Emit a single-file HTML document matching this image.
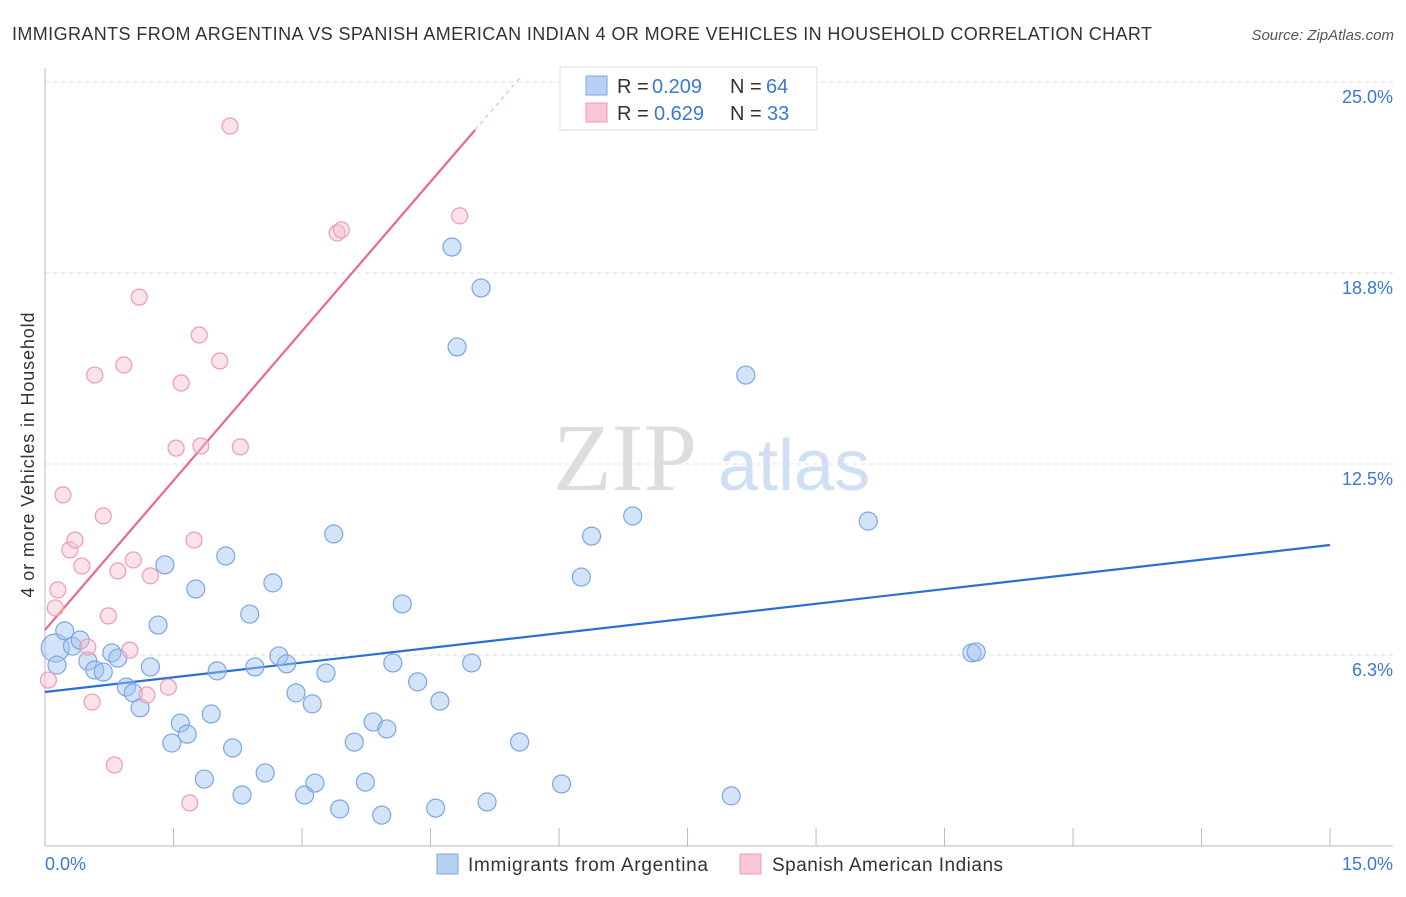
<!DOCTYPE html>
<html><head><meta charset="utf-8"><style>
body{margin:0;background:#fff;font-family:"Liberation Sans",sans-serif}
svg text{font-family:"Liberation Sans",sans-serif}
</style></head><body>
<svg width="1406" height="892" xmlns="http://www.w3.org/2000/svg">
<text x="12" y="40" font-size="18" fill="#333" textLength="1140">IMMIGRANTS FROM ARGENTINA VS SPANISH AMERICAN INDIAN 4 OR MORE VEHICLES IN HOUSEHOLD CORRELATION CHART</text>
<text x="1394" y="40" font-size="15" fill="#555" text-anchor="end" font-style="italic">Source: ZipAtlas.com</text>
<g>
<text x="553" y="490" font-size="96" fill="#ddd" style="font-family:'Liberation Serif',serif">ZIP</text>
<text x="718" y="490" font-size="72" fill="#cfe0f5">atlas</text>
</g>
<g id="grid"></g>
<g id="axes"></g>
<g id="trends"></g>
<g id="points"></g>
<g>
<rect x="560" y="67" width="257" height="63" fill="#fff" stroke="#ddd"/>
<rect x="586" y="76" width="21" height="19" fill="#b8d1f3" stroke="#7aa6e6"/>
<rect x="586" y="103" width="21" height="19" fill="#f9c6d5" stroke="#ef9ab5"/>
<text x="617" y="93" font-size="20" fill="#333">R =</text>
<text x="652" y="93" font-size="20" fill="#3b78d0">0.209</text>
<text x="730" y="93" font-size="20" fill="#333">N =</text>
<text x="766" y="93" font-size="20" fill="#3b78d0">64</text>
<text x="617" y="120" font-size="20" fill="#333">R =</text>
<text x="654" y="120" font-size="20" fill="#3b78d0">0.629</text>
<text x="730" y="120" font-size="20" fill="#333">N =</text>
<text x="767" y="120" font-size="20" fill="#3b78d0">33</text>
</g>
<g>
<rect x="437" y="854" width="21" height="20" fill="#b8d1f3" stroke="#7aa6e6"/>
<text x="468" y="871" font-size="19" fill="#333" textLength="240">Immigrants from Argentina</text>
<rect x="740" y="854" width="21" height="20" fill="#f9c6d5" stroke="#ef9ab5"/>
<text x="772" y="871" font-size="19" fill="#333" textLength="231">Spanish American Indians</text>
</g>
<text x="34" y="455" font-size="18" fill="#333" text-anchor="middle" textLength="285" transform="rotate(-90 34 455)">4 or more Vehicles in Household</text>
<text x="45" y="870" font-size="18" fill="#3b78d0">0.0%</text>
<text x="1393" y="870" font-size="18" fill="#3b78d0" text-anchor="end">15.0%</text>
</svg>
<script>
const yTicks=[6.25,12.5,18.75,25];
const yTickLabels=["6.3%","12.5%","18.8%","25.0%"];
const blueX=[.12,.14,.23,.32,.41,.50,.58,.68,.78,.85,.95,1.03,1.11,1.23,1.32,1.40,1.48,1.58,1.66,1.76,1.86,1.94,2.01,2.11,2.19,2.30,2.39,2.45,2.57,2.66,2.73,2.82,2.93,3.03,3.12,3.15,3.28,3.37,3.44,3.61,3.74,3.83,3.93,3.99,4.06,4.17,4.35,4.56,4.61,4.75,4.81,4.98,5.09,5.16,5.54,6.03,6.26,6.38,6.86,8.01,8.18,9.61,10.82,10.87];
const blueY=[6.48,5.92,7.04,6.54,6.74,6.05,5.76,5.69,6.32,6.15,5.20,5.01,4.52,5.86,7.23,9.20,3.37,4.02,3.66,8.41,2.19,4.32,5.73,9.49,3.21,1.67,7.59,5.86,2.39,8.61,6.22,5.96,5.01,1.67,4.65,2.06,5.66,10.21,1.21,3.40,2.09,4.06,1.01,3.83,5.99,7.92,5.37,1.24,4.74,19.60,16.33,5.99,18.26,1.44,3.40,2.03,8.80,10.14,10.80,1.64,15.41,10.63,6.32,6.35];
const pinkX=[.04,.12,.15,.21,.29,.35,.43,.50,.55,.58,.68,.74,.81,.85,.92,.99,1.03,1.10,1.19,1.23,1.44,1.53,1.59,1.69,1.74,1.80,1.82,2.04,2.16,2.28,3.41,3.46,4.84];
const pinkY=[5.43,7.79,8.38,11.49,9.69,10.01,9.16,6.51,4.71,15.41,10.80,7.53,2.65,9.00,15.74,6.41,9.36,17.96,4.94,8.84,5.20,13.02,15.15,1.41,10.01,16.72,13.09,15.87,23.56,13.06,20.06,20.16,20.62];
const blueTrend=[5.04,9.85];
const pinkTrend=[7.07,23.43];
const NS="http://www.w3.org/2000/svg";
const X=v=>45+v*85.67, Y=v=>846-v*30.56;
function mk(p,t,a){const e=document.createElementNS(NS,t);for(const k in a)e.setAttribute(k,a[k]);document.getElementById(p).appendChild(e);return e;}
yTicks.forEach((t,i)=>{
 let g=mk('grid','line',{x1:45,x2:1393,y1:Y(t),y2:Y(t),stroke:'#ddd','stroke-dasharray':'4,4'});
 
 
 let l=mk('grid','text',{x:1393,y:Y(t)+21,'font-size':18,fill:'#3b78d0','text-anchor':'end'});
 l.textContent=yTickLabels[i];
 
 
});
let ax=mk('axes','line',{x1:45,x2:1393,y1:846,y2:846,stroke:'#bbb'});


let ay=mk('axes','line',{x1:45,x2:45,y1:68,y2:846,stroke:'#bbb'});


for(let i=0;i<=10;i++){let t=mk('axes','line',{x1:X(i*1.5),x2:X(i*1.5),y1:828,y2:846,stroke:'#bbb'});
 
 }
let bt=mk('trends','line',{x1:X(0),y1:Y(blueTrend[0]),x2:X(15),y2:Y(blueTrend[1]),stroke:'#2a6fd6','stroke-width':2.2});


const ps=(pinkTrend[1]-pinkTrend[0])/5.02;
let pt=mk('trends','line',{x1:X(0),y1:Y(pinkTrend[0]),x2:X(5.02),y2:Y(pinkTrend[1]),stroke:'#e8688f','stroke-width':2.2});


let pd=mk('trends','line',{x1:X(5.02),y1:Y(pinkTrend[1]),x2:X(5.55),y2:Y(pinkTrend[0]+ps*5.55),stroke:'#f0b5c7','stroke-width':1.2,'stroke-dasharray':'4,4'});


blueX.forEach((x,i)=>{let c=mk('points','circle',{cx:X(x),cy:Y(blueY[i]),r:i==0?14:9,fill:'rgba(160,195,240,0.45)',stroke:'#7aa6e6','stroke-width':1.2});
 
 });
pinkX.forEach((x,i)=>{let c=mk('points','circle',{cx:X(x),cy:Y(pinkY[i]),r:8,fill:'rgba(249,190,208,0.45)',stroke:'#ef9ab5','stroke-width':1.2});
 
 });
</script>
</body></html>
